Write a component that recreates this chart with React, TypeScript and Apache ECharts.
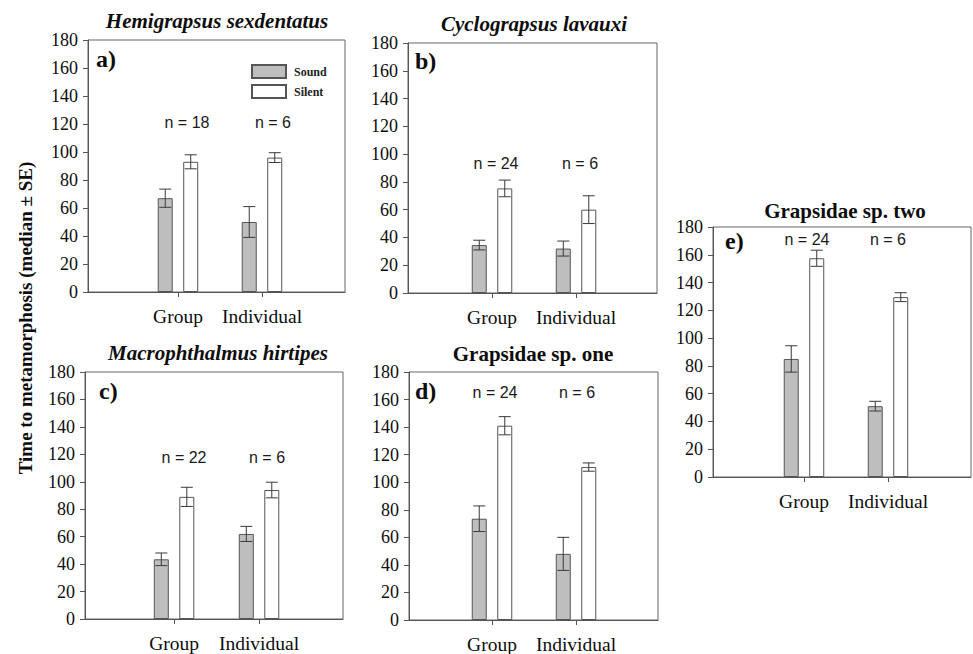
import React, { useEffect, useRef } from "react";
import * as echarts from "echarts";

const CATEGORIES = ["Group", "Individual"];
const Y_TICKS_MAX = 180;
const Y_TICK_STEP = 20;

const PANEL_TITLES = [
  "Hemigrapsus sexdentatus",
  "Cyclograpsus lavauxi",
  "Macrophthalmus hirtipes",
  "Grapsidae sp. one",
  "Grapsidae sp. two",
];
const PANEL_ITALIC = [true, true, true, false, false];
const PANEL_LETTERS = ["a)", "b)", "c)", "d)", "e)"];

// medians and standard errors: [Group, Individual]
const SOUND_MEDIAN = [
  [67, 50],
  [34.5, 32],
  [43.5, 62],
  [73.5, 48],
  [85, 51],
];
const SOUND_SE = [
  [6.5, 11],
  [3.5, 5.4],
  [4.6, 5.5],
  [9.3, 12],
  [9.5, 3.5],
];
const SILENT_MEDIAN = [
  [93, 96],
  [75.3, 60],
  [89, 94],
  [141, 111],
  [157.5, 129.5],
];
const SILENT_SE = [
  [5, 3.5],
  [6, 10],
  [7, 5.7],
  [6.6, 3],
  [5.8, 3.2],
];
const N_COUNTS = [
  [18, 6],
  [24, 6],
  [22, 6],
  [24, 6],
  [24, 6],
];

// layout (pixels) per panel
const LAYOUT = [
  { left: 88, top: 40, width: 257, height: 252, xMin: -1.071, xMax: 1.988, title: [217, 21], letter: [96, 59], nY: 121, nDx: [9, 11] },
  { left: 408, top: 43, width: 249, height: 250, xMin: -1.0, xMax: 1.964, title: [534, 24], letter: [415, 61], nY: 93, nDx: [4, 4] },
  { left: 85, top: 372, width: 258, height: 247, xMin: -1.048, xMax: 1.988, title: [218, 353], letter: [99, 391], nY: 118, nDx: [10, 8] },
  { left: 409, top: 372, width: 249, height: 248, xMin: -0.988, xMax: 1.976, title: [533, 354], letter: [415, 391], nY: 165, nDx: [3, 1] },
  { left: 713, top: 227, width: 258, height: 250, xMin: -1.083, xMax: 1.988, title: [845, 211], letter: [725, 241], nY: 171, nDx: [3, 0] },
];

const SERIF = "Liberation Serif";
const SANS = "Liberation Sans";
const BAR_W = 15;
const BAR_OFF = 12.75;
const EDGE = "#555";
const SOUND_FILL = "#bebebe";
const INK = "#0d0d0d";

function errorSeries(panel: number, name: string, med: number[], se: number[], offset: number) {
  return {
    type: "custom",
    name: name + "-err",
    xAxisIndex: panel,
    yAxisIndex: panel,
    silent: true,
    clip: false,
    z: 5,
    encode: { x: 0, y: 1 },
    data: med.map((m, i) => [i, m, se[i]]),
    renderItem: (params: any, api: any) => {
      const x = api.value(0);
      const m = api.value(1);
      const s = api.value(2);
      const hi = api.coord([x, m + s]);
      const lo = api.coord([x, m - s]);
      const cx = hi[0] + offset;
      const st = { stroke: "#3a3a3a", lineWidth: 1 };
      return {
        type: "group",
        children: [
          { type: "line", shape: { x1: cx, y1: hi[1], x2: cx, y2: lo[1] }, style: st },
          { type: "line", shape: { x1: cx - 6, y1: hi[1], x2: cx + 6, y2: hi[1] }, style: st },
          { type: "line", shape: { x1: cx - 6, y1: lo[1], x2: cx + 6, y2: lo[1] }, style: st },
        ],
      };
    },
  };
}

function nSeries(panel: number) {
  const L = LAYOUT[panel];
  return {
    type: "custom",
    name: "n-" + panel,
    xAxisIndex: panel,
    yAxisIndex: panel,
    silent: true,
    clip: false,
    z: 6,
    encode: { x: 0, y: 1 },
    data: N_COUNTS[panel].map((n, i) => [i, L.nY, n]),
    renderItem: (params: any, api: any) => {
      const i = api.value(0);
      const p = api.coord([i, api.value(1)]);
      return {
        type: "text",
        x: p[0] + L.nDx[i],
        y: p[1],
        style: {
          text: "n = " + api.value(2),
          fontFamily: SANS,
          fontSize: 16,
          fill: "#1a1a1a",
          textAlign: "center",
          textVerticalAlign: "middle",
        },
      };
    },
  };
}

export default function App() {
  const ref = useRef<HTMLDivElement>(null);
  useEffect(() => {
    if (!ref.current) return;
    const chart = echarts.init(ref.current, null, { renderer: "svg" });

    const grid: any[] = [];
    const xAxis: any[] = [];
    const yAxis: any[] = [];
    const series: any[] = [];
    const graphic: any[] = [];

    LAYOUT.forEach((L, p) => {
      grid.push({
        left: L.left,
        top: L.top,
        width: L.width,
        height: L.height,
        show: true,
        borderColor: "#666",
        borderWidth: 1,
        backgroundColor: "transparent",
      });
      xAxis.push({
        type: "value",
        gridIndex: p,
        min: L.xMin,
        max: L.xMax,
        splitLine: { show: false },
        axisLine: { show: true, onZero: false, lineStyle: { color: EDGE, width: 1 } },
        axisTick: { show: true, customValues: [0, 1], length: 5, lineStyle: { color: EDGE } },
        axisLabel: {
          show: true,
          customValues: [0, 1],
          formatter: (v: number) => CATEGORIES[Math.round(v)] ?? "",
          fontFamily: SERIF,
          fontSize: 19.5,
          color: INK,
          margin: 14,
        },
      });
      yAxis.push({
        type: "value",
        gridIndex: p,
        min: 0,
        max: Y_TICKS_MAX,
        interval: Y_TICK_STEP,
        splitLine: { show: false },
        axisLine: { show: true, onZero: false, lineStyle: { color: EDGE, width: 1 } },
        axisTick: { show: true, length: 5, lineStyle: { color: EDGE } },
        axisLabel: { fontFamily: SERIF, fontSize: 18, color: INK, margin: 10 },
      });
      series.push({
        type: "bar",
        name: "Sound",
        xAxisIndex: p,
        yAxisIndex: p,
        barWidth: BAR_W,
        barGap: "70%",
        itemStyle: { color: SOUND_FILL, borderColor: EDGE, borderWidth: 1 },
        data: SOUND_MEDIAN[p].map((v, i) => [i, v]),
      });
      series.push({
        type: "bar",
        name: "Silent",
        xAxisIndex: p,
        yAxisIndex: p,
        barWidth: BAR_W,
        barGap: "70%",
        itemStyle: { color: "#ffffff", borderColor: EDGE, borderWidth: 1 },
        data: SILENT_MEDIAN[p].map((v, i) => [i, v]),
      });
      series.push(errorSeries(p, "Sound", SOUND_MEDIAN[p], SOUND_SE[p], -BAR_OFF));
      series.push(errorSeries(p, "Silent", SILENT_MEDIAN[p], SILENT_SE[p], BAR_OFF));
      series.push(nSeries(p));

      graphic.push({
        type: "text",
        x: L.title[0],
        y: L.title[1],
        style: {
          text: PANEL_TITLES[p],
          fontFamily: SERIF,
          fontSize: 21,
          fontWeight: "bold",
          fontStyle: PANEL_ITALIC[p] ? "italic" : "normal",
          fill: INK,
          textAlign: "center",
          textVerticalAlign: "middle",
        },
      });
      graphic.push({
        type: "text",
        x: L.letter[0],
        y: L.letter[1],
        style: {
          text: PANEL_LETTERS[p],
          fontFamily: SERIF,
          fontSize: 24,
          fontWeight: "bold",
          fill: INK,
          textAlign: "left",
          textVerticalAlign: "middle",
        },
      });
    });

    graphic.push({
      type: "text",
      x: 25,
      y: 318,
      rotation: Math.PI / 2,
      style: {
        text: "Time to metamorphosis (median \u00b1 SE)",
        fontFamily: SERIF,
        fontSize: 19,
        fontWeight: "bold",
        fill: INK,
        textAlign: "center",
        textVerticalAlign: "middle",
      },
    });

    chart.setOption({
      animation: false,
      backgroundColor: "#ffffff",
      grid,
      xAxis,
      yAxis,
      series,
      graphic,
      legend: {
        data: ["Sound", "Silent"],
        orient: "vertical",
        left: 246,
        top: 59,
        itemWidth: 34,
        itemHeight: 13,
        itemGap: 5,
        icon: "rect",
        selectedMode: false,
        textStyle: { fontFamily: SERIF, fontSize: 12, fontWeight: "bold", color: "#222", padding: [0, 0, 0, 3] },
      },
    });

    return () => chart.dispose();
  }, []);

  return (
    <div
      ref={ref}
      style={{ position: "fixed", left: 0, top: 0, width: 973, height: 654, background: "#fff" }}
    />
  );
}
